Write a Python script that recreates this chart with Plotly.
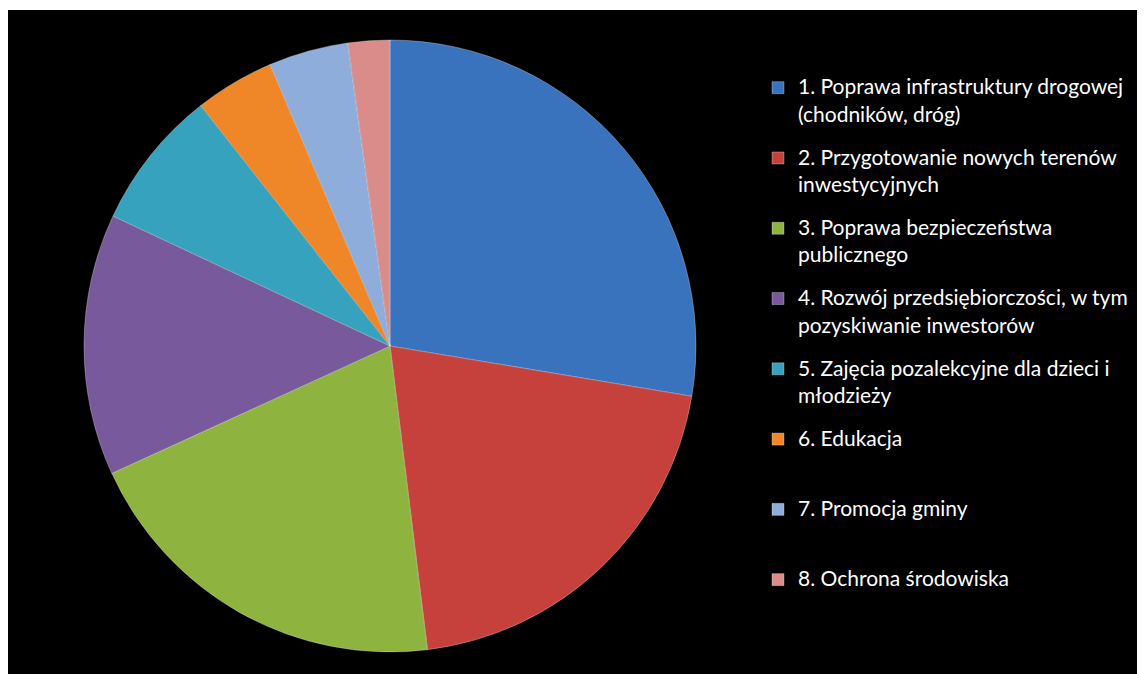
import plotly.graph_objects as go

labels = [
    "1. Poprawa infrastruktury drogowej<br>(chodników, dróg)",
    "2. Przygotowanie nowych terenów<br>inwestycyjnych",
    "3. Poprawa bezpieczeństwa<br>publicznego",
    "4. Rozwój przedsiębiorczości, w tym<br>pozyskiwanie inwestorów",
    "5. Zajęcia pozalekcyjne dla dzieci i<br>młodzieży",
    "6. Edukacja",
    "7. Promocja gminy",
    "8. Ochrona środowiska",
]
values = [27.6, 20.4, 20.1, 13.8, 7.4, 4.2, 4.2, 2.2]
colors = ["#3a73bd", "#c6403c", "#8fb33f", "#785a9c", "#36a2bd",
          "#ef8628", "#8eaddb", "#d98c8a"]


def legend_text(lbl):
    # every legend entry takes three text lines so the entries are evenly spaced
    parts = lbl.split("<br>")
    parts = parts + [" "] * (3 - len(parts))
    out = []
    for i, p in enumerate(parts):
        if not p.strip():
            out.append(p)
        elif i == 0:
            out.append(f"<span style='font-size:21px'>{p}</span>")
        else:
            out.append(f"<span style='font-size:21px;baseline-shift:-5px'>{p}</span>")
    return "<br>".join(out)


legend_labels = [legend_text(l) for l in labels]

# the page body adds an 8px margin around the figure
W, H = 1137, 666
ml, mt = 0, 2
pw, ph = W - ml, H - mt
cx, cy, r = 382, 338, 306

fig = go.Figure(go.Pie(
    labels=legend_labels,
    values=values,
    sort=False,
    direction="clockwise",
    rotation=0,
    textinfo="none",
    hoverinfo="percent",
    marker=dict(colors=colors, line=dict(color="rgba(255,255,255,0.3)", width=1)),
    domain=dict(
        x=[(cx - r - ml) / pw, (cx + r - ml) / pw],
        y=[(H - (cy + r)) / ph, (H - (cy - r)) / ph],
    ),
))

fig.update_layout(
    width=W, height=H,
    margin=dict(l=ml, r=0, t=mt, b=0, autoexpand=False),
    paper_bgcolor="white",
    shapes=[dict(type="rect", xref="paper", yref="paper", x0=0, x1=1, y0=0, y1=1,
                 fillcolor="black", line=dict(width=0), layer="below")],
    legend=dict(
        x=(750 - ml) / pw, xanchor="left",
        y=(H - 62) / ph, yanchor="top",
        font=dict(family="Lato, Open Sans, sans-serif", size=17.25, color="white"),
        bgcolor="rgba(0,0,0,0)",
        valign="top",
    ),
    showlegend=True,
)

fig.write_html("out.html")
